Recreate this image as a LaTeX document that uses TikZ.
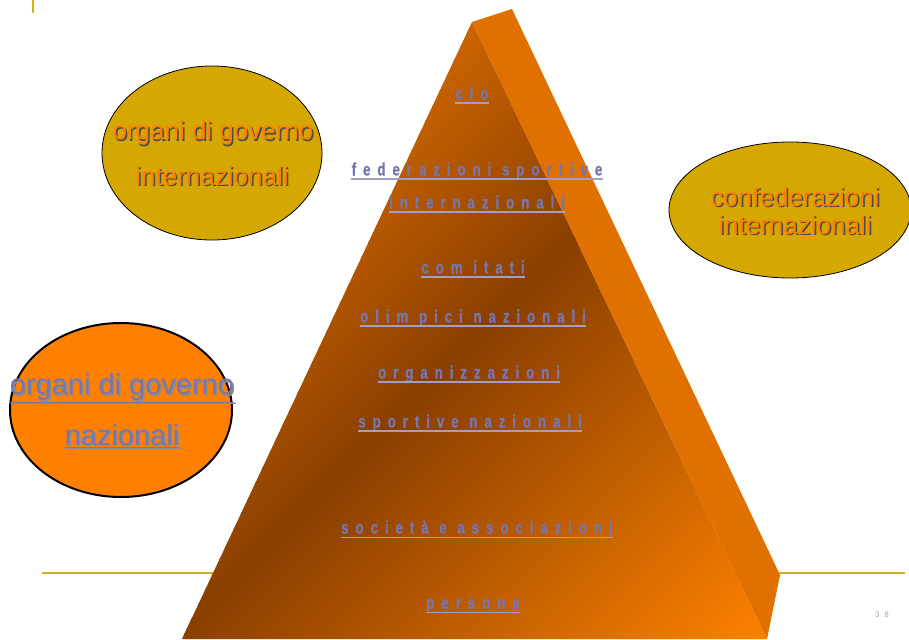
\documentclass[tikz,border=0pt]{standalone}
\usepackage{fontspec}
\setmainfont{Liberation Sans}
\usetikzlibrary{shapes.geometric}
\definecolor{govgold}{HTML}{D4A800}
\definecolor{govorange}{HTML}{FF7F00}
\definecolor{sideorange}{HTML}{E07000}
\definecolor{pyrtop}{HTML}{CC6400}
\definecolor{pyrdark}{HTML}{8A3F00}
\definecolor{pyrbright}{HTML}{FF8200}
\definecolor{labelblue}{HTML}{7676B0}
\definecolor{rulegold}{HTML}{D9AE1A}
\begin{document}
\begin{tikzpicture}[x=1pt, y=-1pt,
            every node/.style={inner sep=0pt},
            lvl/.style={text=labelblue, text depth=0pt,
                font=\fontsize{18}{20}\selectfont\bfseries\addfontfeatures{FakeStretch=0.75,FakeBold=0.8,LetterSpace=38}},
            ulline/.style={draw=labelblue!70!white, line width=1.6pt},
            goldell/.style={ellipse, draw=black, line width=0.8pt, fill=govgold},
            orangetxt/.style={text=govorange, font=\fontsize{26}{28}\selectfont},
            bluetxt/.style={text=labelblue, font=\fontsize{29}{30}\selectfont},
            shadowtxt/.style={text=black!70, xshift=1.5pt, yshift=-1.5pt}]
        \useasboundingbox (0,0) rectangle (909,639);
        % rules
        \draw[rulegold, line width=2pt] (33,0) -- (33,13);
        \draw[rulegold, line width=2pt] (42,573) -- (905,573);
        % pyramid, front face in diagonal bands
        \begin{scope}
            \clip (472,22) -- (182,639) -- (767,639) -- cycle;
            \foreach \s in {482,490,...,810} {
                \pgfmathsetmacro{\pct}{min(100,max(0,(\s-490)/3.2))}
                \fill[pyrdark!\pct!pyrtop] (\s,0) -- (\s+9,0) -- (\s+9-700,700) -- (\s-700,700) -- cycle;
            }
            \foreach \s in {810,818,...,1410} {
                \pgfmathsetmacro{\pct}{min(100,(\s-810)/5.96)}
                \fill[pyrbright!\pct!pyrdark] (\s,0) -- (\s+9,0) -- (\s+9-700,700) -- (\s-700,700) -- cycle;
            }
        \end{scope}
        \fill[sideorange] (472,22) -- (512,9) -- (780,575) -- (767,639) -- cycle;
        % ellipses
        \node[goldell, minimum width=220pt, minimum height=174pt] (govint) at (212,153) {};
        \node[goldell, minimum width=242pt, minimum height=136pt] (confint) at (790,210) {};
        \node[ellipse, draw=black, line width=2pt, fill=govorange,
            minimum width=222pt, minimum height=174pt] (govnaz) at (121,410) {};
        \node[orangetxt, shadowtxt] (govintAs) at (213,133) {organi di governo};
        \node[orangetxt] (govintA) at (213,133) {organi di governo};
        \node[orangetxt, shadowtxt] (govintBs) at (212,176) {internazionali};
        \node[orangetxt] (govintB) at (212,176) {internazionali};
        \node[orangetxt, shadowtxt] (confintAs) at (795,197) {confederazioni};
        \node[orangetxt] (confintA) at (795,197) {confederazioni};
        \node[orangetxt, shadowtxt] (confintBs) at (795,225) {internazionali};
        \node[orangetxt] (confintB) at (795,225) {internazionali};
        \node[bluetxt, shadowtxt, text=black!45] (govnazAs) at (122,388) {\underline{organi di governo}};
        \node[bluetxt] (govnazA) at (122,388) {\underline{organi di governo}};
        \node[bluetxt, shadowtxt, text=black!45] (govnazBs) at (122,436) {\underline{nazionali}};
        \node[bluetxt] (govnazB) at (122,436) {\underline{nazionali}};
        % levels
        \node[lvl] (cio) at (472,93) {cio};
        \node[lvl] (fedsp) at (477,169) {federazioni sportive};
        \node[lvl] (fedint) at (477,202) {internazionali};
        \node[lvl] (comit) at (473,267) {com itati};
        \node[lvl] (olimp) at (473,316) {olim pici nazionali};
        \node[lvl] (orgz) at (469,372) {organizzazioni};
        \node[lvl] (sportnaz) at (470,421) {sportive nazionali};
        \node[lvl] (soc) at (477,527) {società e associazioni};
        \node[lvl] (pers) at (473,604) {persone};
        \foreach \n in {cio,fedsp,fedint,comit,olimp,orgz,sportnaz,soc,pers}
            \draw[ulline] ([yshift=-3.5pt]\n.south west) -- ([yshift=-3.5pt]\n.south east);
        \node[text=black!35, font=\fontsize{8}{9}\selectfont\addfontfeatures{LetterSpace=60}] (pagenum) at (882,615) {38};
\end{tikzpicture}
\end{document}
